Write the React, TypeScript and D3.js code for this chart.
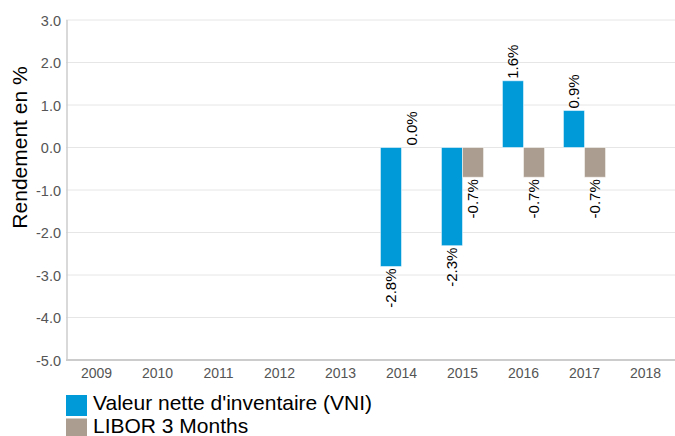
import * as d3 from "d3";

const years = ["2009", "2010", "2011", "2012", "2013", "2014", "2015", "2016", "2017", "2018"];
const vni = [null, null, null, null, null, -2.8, -2.31, 1.57, 0.87, null];
const libor = [null, null, null, null, null, 0.0, -0.7, -0.7, -0.7, null];
const seriesNames = ["Valeur nette d'inventaire (VNI)", "LIBOR 3 Months"];
const seriesColors = ["#009ad9", "#ab9d90"];
const yTicks = [3, 2, 1, 0, -1, -2, -3, -4, -5];

const width = 675;
const height = 436;
const marginLeft = 66;
const marginRight = -1;
const marginTop = 20;
const plotBottom = 360;
const font = "'Liberation Sans', Arial, sans-serif";

export default function App() {
  const x = d3
    .scaleBand()
    .domain(years)
    .range([marginLeft, width - marginRight])
    .paddingInner(0.31)
    .paddingOuter(0.155);
  const x1 = d3.scaleBand().domain(["0", "1"]).range([0, x.bandwidth()]);
  const y = d3.scaleLinear([-5, 3], [plotBottom, marginTop]);
  const allSeries = [vni, libor];
  const fmt = (v: number) => v.toFixed(1);

  return (
    <div style={{ position: "absolute", left: 0, top: 0 }}>
      <svg width={width} height={height} style={{ display: "block", fontFamily: font }}>
        {yTicks.map((t) => (
          <g key={t}>
            <line x1={marginLeft} x2={width} y1={y(t)} y2={y(t)} stroke="#e6e6e6" strokeWidth={1} />
            <text x={61} y={y(t)} dy="0.4em" textAnchor="end" fontSize={14.5} fill="#555">
              {fmt(t)}
            </text>
          </g>
        ))}
        <line x1={marginLeft + 1} x2={marginLeft + 1} y1={marginTop} y2={plotBottom} stroke="#ccc" strokeWidth={1.5} />
        <line x1={marginLeft} x2={width} y1={plotBottom} y2={plotBottom} stroke="#ccc" strokeWidth={2} />
        {years.map((yr) => (
          <text key={yr} x={x(yr) + x.bandwidth() / 2} y={378} textAnchor="middle" fontSize={14} fill="#555">
            {yr}
          </text>
        ))}
        <text transform={`translate(27,${y(0)}) rotate(-90)`} textAnchor="middle" fontSize={21} fill="#000">
          Rendement en %
        </text>
        {allSeries.map((data, si) =>
          data.map((v, i) => {
            if (v === null) return null;
            const bx = x(years[i]) + x1(String(si));
            const bw = x1.bandwidth();
            const top = y(Math.max(0, v));
            const bot = y(Math.min(0, v));
            const cx = bx + bw / 2;
            const neg = v < 0;
            return (
              <g key={si + "-" + i}>
                {bot - top > 0 && (
                  <rect x={bx} y={top} width={bw} height={bot - top} fill={seriesColors[si]} stroke="#fff" strokeOpacity={0.5} strokeWidth={1} />
                )}
                <text
                  transform={`translate(${cx},${neg ? bot + 2 : top - 2}) rotate(-90)`}
                  textAnchor={neg ? "end" : "start"}
                  dy="0.35em"
                  fontSize={15}
                  fill="#000"
                >
                  {fmt(v) + "%"}
                </text>
              </g>
            );
          })
        )}
        {seriesNames.map((name, i) => (
          <g key={name} transform={`translate(66,${395 + i * 23.5})`}>
            <rect width={21} height={21} fill={seriesColors[i]} />
            <text x={27} y={14.8} fontSize={21} fill="#000">
              {name}
            </text>
          </g>
        ))}
      </svg>
    </div>
  );
}
